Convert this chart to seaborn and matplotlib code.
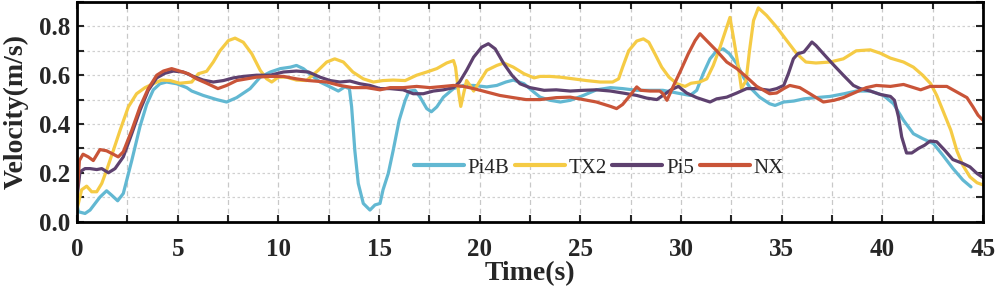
import numpy as np
import pandas as pd
import matplotlib
matplotlib.use("Agg")
import matplotlib.pyplot as plt
import seaborn as sns
from matplotlib.ticker import MultipleLocator

# ---- data ----
pi4b_t = [0.0, 0.07, 0.4, 0.65, 1.14, 1.47, 1.72, 2.02, 2.3, 2.72, 3.13, 3.46, 3.79, 4.12, 4.45, 4.95, 5.45, 5.7,
          6.27, 6.94, 7.43, 7.93, 8.6, 9.1, 9.6, 10.1, 10.6, 10.9, 11.24, 11.57, 12.07, 12.57, 12.98, 13.3, 13.53,
          13.64, 13.8, 13.97, 14.22, 14.55, 14.8, 15.05, 15.2, 15.46, 15.7, 16.0, 16.3, 16.5, 16.79, 17.04, 17.37,
          17.6, 17.87, 18.2, 18.7, 19.2, 19.7, 20.35, 20.85, 21.3, 21.67, 22.2, 22.7, 23.0, 23.5, 24.0, 24.5, 25.15,
          25.8, 26.5, 27.1, 27.8, 28.46, 29.1, 29.8, 30.45, 30.78, 31.1, 31.44, 31.77, 32.1, 32.4, 32.77, 33.1,
          33.4, 33.9, 34.4, 34.67, 35.1, 35.6, 36.1, 36.7, 37.4, 38.1, 38.7, 39.4, 40.05, 40.55, 41.05, 41.54,
          42.0, 42.53, 43.0, 43.5, 44.0, 44.4]
pi4b_v = [0.07, 0.04, 0.033, 0.047, 0.10, 0.126, 0.108, 0.085, 0.115, 0.25, 0.39, 0.48, 0.54, 0.565, 0.572, 0.565,
          0.549, 0.535, 0.517, 0.50, 0.49, 0.508, 0.545, 0.592, 0.613, 0.627, 0.633, 0.64, 0.627, 0.605, 0.572,
          0.552, 0.535, 0.552, 0.545, 0.47, 0.29, 0.156, 0.074, 0.047, 0.068, 0.074, 0.13, 0.197, 0.29, 0.415,
          0.497, 0.535, 0.538, 0.51, 0.463, 0.45, 0.47, 0.51, 0.545, 0.558, 0.558, 0.552, 0.558, 0.572, 0.58,
          0.565, 0.53, 0.51, 0.497, 0.49, 0.497, 0.517, 0.54, 0.549, 0.545, 0.538, 0.538, 0.538, 0.527, 0.517,
          0.538, 0.606, 0.667, 0.70, 0.708, 0.688, 0.647, 0.592, 0.552, 0.51, 0.483, 0.476, 0.49, 0.494, 0.503,
          0.508, 0.513, 0.524, 0.535, 0.535, 0.517, 0.483, 0.415, 0.36, 0.34, 0.32, 0.272, 0.218, 0.17, 0.142]

tx2_t = [0.0, 0.23, 0.48, 0.73, 0.98, 1.23, 1.47, 1.8, 2.14, 2.55, 2.96, 3.38, 3.79, 4.2, 4.62, 5.1, 5.7, 6.03,
         6.44, 6.77, 7.1, 7.52, 7.85, 8.26, 8.68, 9.1, 9.42, 9.67, 10.0, 10.4, 10.9, 11.4, 11.98, 12.4, 12.8,
         13.23, 13.7, 14.22, 14.72, 15.2, 15.7, 16.3, 16.87, 17.37, 17.87, 18.36, 18.7, 18.8, 18.94, 19.06, 19.2,
         19.35, 19.52, 19.7, 19.93, 20.35, 20.85, 21.2, 21.67, 22.2, 22.7, 23.0, 23.5, 24.0, 24.65, 25.3, 25.98,
         26.6, 26.9, 27.1, 27.4, 27.8, 28.13, 28.4, 28.7, 29.04, 29.4, 29.8, 30.2, 30.5, 30.93, 31.28, 31.6,
         31.94, 32.27, 32.43, 32.6, 32.85, 33.0, 33.23, 33.4, 33.6, 33.84, 34.25, 34.75, 35.25, 35.75, 36.2,
         36.7, 37.4, 38.06, 38.7, 39.4, 39.9, 40.4, 41.05, 41.54, 42.0, 42.4, 42.7, 43.0, 43.4, 43.7, 44.0,
         44.35, 44.7, 45.0]
tx2_v = [0.05, 0.13, 0.145, 0.122, 0.122, 0.156, 0.21, 0.29, 0.374, 0.47, 0.524, 0.549, 0.565, 0.58, 0.578,
         0.567, 0.572, 0.606, 0.616, 0.654, 0.70, 0.742, 0.752, 0.735, 0.688, 0.62, 0.585, 0.572, 0.592, 0.592,
         0.58, 0.578, 0.62, 0.654, 0.667, 0.654, 0.613, 0.585, 0.572, 0.578, 0.58, 0.578, 0.60, 0.613, 0.627,
         0.65, 0.66, 0.633, 0.538, 0.472, 0.524, 0.578, 0.558, 0.535, 0.565, 0.62, 0.64, 0.65, 0.633, 0.606,
         0.589, 0.595, 0.595, 0.592, 0.585, 0.578, 0.572, 0.572, 0.585, 0.633, 0.70, 0.74, 0.749, 0.735, 0.688,
         0.633, 0.592, 0.565, 0.554, 0.567, 0.572, 0.585, 0.64, 0.715, 0.797, 0.837, 0.756, 0.633, 0.545, 0.578,
         0.70, 0.824, 0.876, 0.845, 0.797, 0.742, 0.688, 0.654, 0.65, 0.654, 0.667, 0.70, 0.704, 0.69, 0.67,
         0.654, 0.633, 0.60, 0.565, 0.517, 0.456, 0.374, 0.29, 0.23, 0.183, 0.159, 0.15]

pi5_t = [0.0, 0.15, 0.4, 0.65, 0.98, 1.23, 1.56, 1.89, 2.3, 2.72, 3.13, 3.54, 3.96, 4.37, 4.78, 5.28, 5.78, 6.27,
         6.77, 7.27, 7.77, 8.26, 8.92, 9.6, 10.25, 10.9, 11.5, 12.07, 12.57, 13.06, 13.56, 14.05, 14.55, 15.05,
         15.55, 16.2, 16.7, 17.2, 17.7, 18.2, 18.7, 19.0, 19.35, 19.7, 20.1, 20.43, 20.77, 21.2, 21.6, 22.0,
         22.5, 23.2, 23.8, 24.5, 25.15, 25.8, 26.5, 27.1, 27.8, 28.3, 28.8, 29.1, 29.5, 29.87, 30.28, 30.78,
         31.44, 31.77, 32.27, 32.77, 33.26, 33.76, 34.4, 34.75, 35.1, 35.33, 35.58, 35.8, 36.1, 36.3, 36.5,
         36.7, 37.07, 37.6, 38.06, 38.56, 38.9, 39.4, 39.9, 40.4, 40.6, 40.8, 40.96, 41.2, 41.46, 41.8, 42.1,
         42.37, 42.7, 43.1, 43.5, 44.0, 44.35, 44.7, 45.0]
pi5_v = [0.10, 0.204, 0.217, 0.217, 0.213, 0.217, 0.20, 0.217, 0.265, 0.36, 0.456, 0.538, 0.589, 0.608, 0.617,
         0.613, 0.595, 0.58, 0.572, 0.578, 0.589, 0.595, 0.60, 0.60, 0.613, 0.617, 0.613, 0.592, 0.578, 0.572,
         0.576, 0.565, 0.558, 0.545, 0.545, 0.54, 0.524, 0.524, 0.535, 0.54, 0.549, 0.572, 0.62, 0.674, 0.715,
         0.729, 0.708, 0.647, 0.60, 0.565, 0.549, 0.538, 0.54, 0.535, 0.538, 0.54, 0.535, 0.527, 0.517, 0.506,
         0.50, 0.517, 0.54, 0.554, 0.527, 0.508, 0.49, 0.503, 0.51, 0.527, 0.545, 0.545, 0.538, 0.545, 0.558,
         0.606, 0.667, 0.688, 0.695, 0.715, 0.736, 0.722, 0.688, 0.64, 0.60, 0.558, 0.545, 0.535, 0.521, 0.513,
         0.497, 0.429, 0.347, 0.281, 0.281, 0.30, 0.313, 0.33, 0.327, 0.292, 0.254, 0.238, 0.224, 0.197, 0.18]

nx_t = [0.0, 0.12, 0.3, 0.56, 0.81, 1.14, 1.47, 1.8, 2.05, 2.3, 2.72, 3.13, 3.54, 3.96, 4.29, 4.7, 5.1, 5.53,
        5.94, 6.44, 7.0, 7.43, 7.93, 8.43, 8.92, 9.6, 10.25, 10.9, 11.5, 12.4, 13.06, 13.7, 14.38, 15.05, 15.55,
        16.2, 16.87, 17.53, 18.2, 18.7, 19.2, 19.7, 20.35, 21.0, 21.67, 22.3, 23.0, 23.8, 24.5, 25.15, 25.8,
        26.5, 26.8, 27.1, 27.4, 27.8, 28.0, 28.46, 28.95, 29.1, 29.3, 29.6, 29.95, 30.36, 30.7, 30.94, 31.27,
        31.77, 32.27, 32.77, 33.26, 33.76, 34.4, 34.75, 35.1, 35.4, 35.9, 36.4, 37.07, 37.6, 38.06, 38.7, 39.2,
        39.7, 40.4, 41.05, 41.9, 42.37, 43.2, 43.7, 44.2, 44.5, 44.75, 45.0]
nx_v = [0.10, 0.25, 0.276, 0.265, 0.25, 0.295, 0.29, 0.276, 0.265, 0.286, 0.374, 0.47, 0.545, 0.60, 0.617,
        0.627, 0.617, 0.606, 0.585, 0.567, 0.545, 0.558, 0.578, 0.585, 0.592, 0.595, 0.595, 0.585, 0.578, 0.572,
        0.558, 0.549, 0.549, 0.54, 0.549, 0.549, 0.554, 0.549, 0.554, 0.558, 0.554, 0.545, 0.531, 0.517, 0.508,
        0.50, 0.50, 0.508, 0.51, 0.50, 0.49, 0.472, 0.463, 0.48, 0.51, 0.552, 0.538, 0.535, 0.535, 0.524, 0.497,
        0.552, 0.613, 0.688, 0.742, 0.77, 0.742, 0.70, 0.654, 0.627, 0.592, 0.554, 0.524, 0.527, 0.545, 0.558,
        0.549, 0.524, 0.49, 0.497, 0.508, 0.531, 0.549, 0.558, 0.554, 0.562, 0.54, 0.554, 0.554, 0.531, 0.508,
        0.47, 0.436, 0.415]

series_names = ["Pi4B", "TX2", "Pi5", "NX"]
series_colors = ["#62B8D2", "#F5CB45", "#5E416F", "#C95438"]

frames = []
for name, t, v in zip(series_names, [pi4b_t, tx2_t, pi5_t, nx_t], [pi4b_v, tx2_v, pi5_v, nx_v]):
    frames.append(pd.DataFrame({"Time": t, "Velocity": v, "Device": name}))
df = pd.concat(frames, ignore_index=True)

sns.set_style("ticks")
plt.rcParams["font.family"] = ["Liberation Serif", "DejaVu Serif"]

fig = plt.figure(figsize=(9.96, 2.91), dpi=100)
ax = fig.add_axes([0.0773, 0.2388, 0.9097, 0.7542])

sns.lineplot(data=df, x="Time", y="Velocity", hue="Device", hue_order=series_names,
             palette=dict(zip(series_names, series_colors)), estimator=None, sort=True,
             linewidth=2.3, ax=ax)

ax.set_xlim(0, 45)
ax.set_ylim(0, 0.9)
ax.xaxis.set_major_locator(MultipleLocator(5))
ax.xaxis.set_minor_locator(MultipleLocator(2.5))
ax.yaxis.set_major_locator(MultipleLocator(0.2))
ax.yaxis.set_minor_locator(MultipleLocator(0.1))
ax.yaxis.set_major_formatter(matplotlib.ticker.FormatStrFormatter("%.1f"))

ax.tick_params(which="both", direction="in", top=True, right=True, length=5, width=1.5)
ax.tick_params(which="major", labelsize=18)
ax.tick_params(axis="x", which="major", pad=12)
ax.tick_params(axis="y", which="major", pad=5)
for lab in ax.get_xticklabels() + ax.get_yticklabels():
    lab.set_fontweight("bold")

ax.grid(True, which="both", axis="x", color="#c8c8c8", linestyle=(0, (4, 3)), linewidth=0.9)
ax.grid(True, which="both", axis="y", color="#d0d0d0", linestyle=(0, (2, 2)), linewidth=0.9)
ax.set_axisbelow(True)

for sp in ax.spines.values():
    sp.set_linewidth(2)
    sp.set_color("black")

ax.set_xlabel("Time(s)", fontsize=20, fontweight="bold", labelpad=0)
ax.set_ylabel("Velocity(m/s)", fontsize=20, fontweight="bold", labelpad=7)

leg = ax.legend(loc="center", bbox_to_anchor=(0.576, 0.245), ncol=4, frameon=False,
                fontsize=15, handlelength=2.4, handletextpad=0.2, columnspacing=0.25,
                borderaxespad=0)
for line in leg.get_lines():
    line.set_linewidth(3)

fig.savefig("out.png", dpi=100)
